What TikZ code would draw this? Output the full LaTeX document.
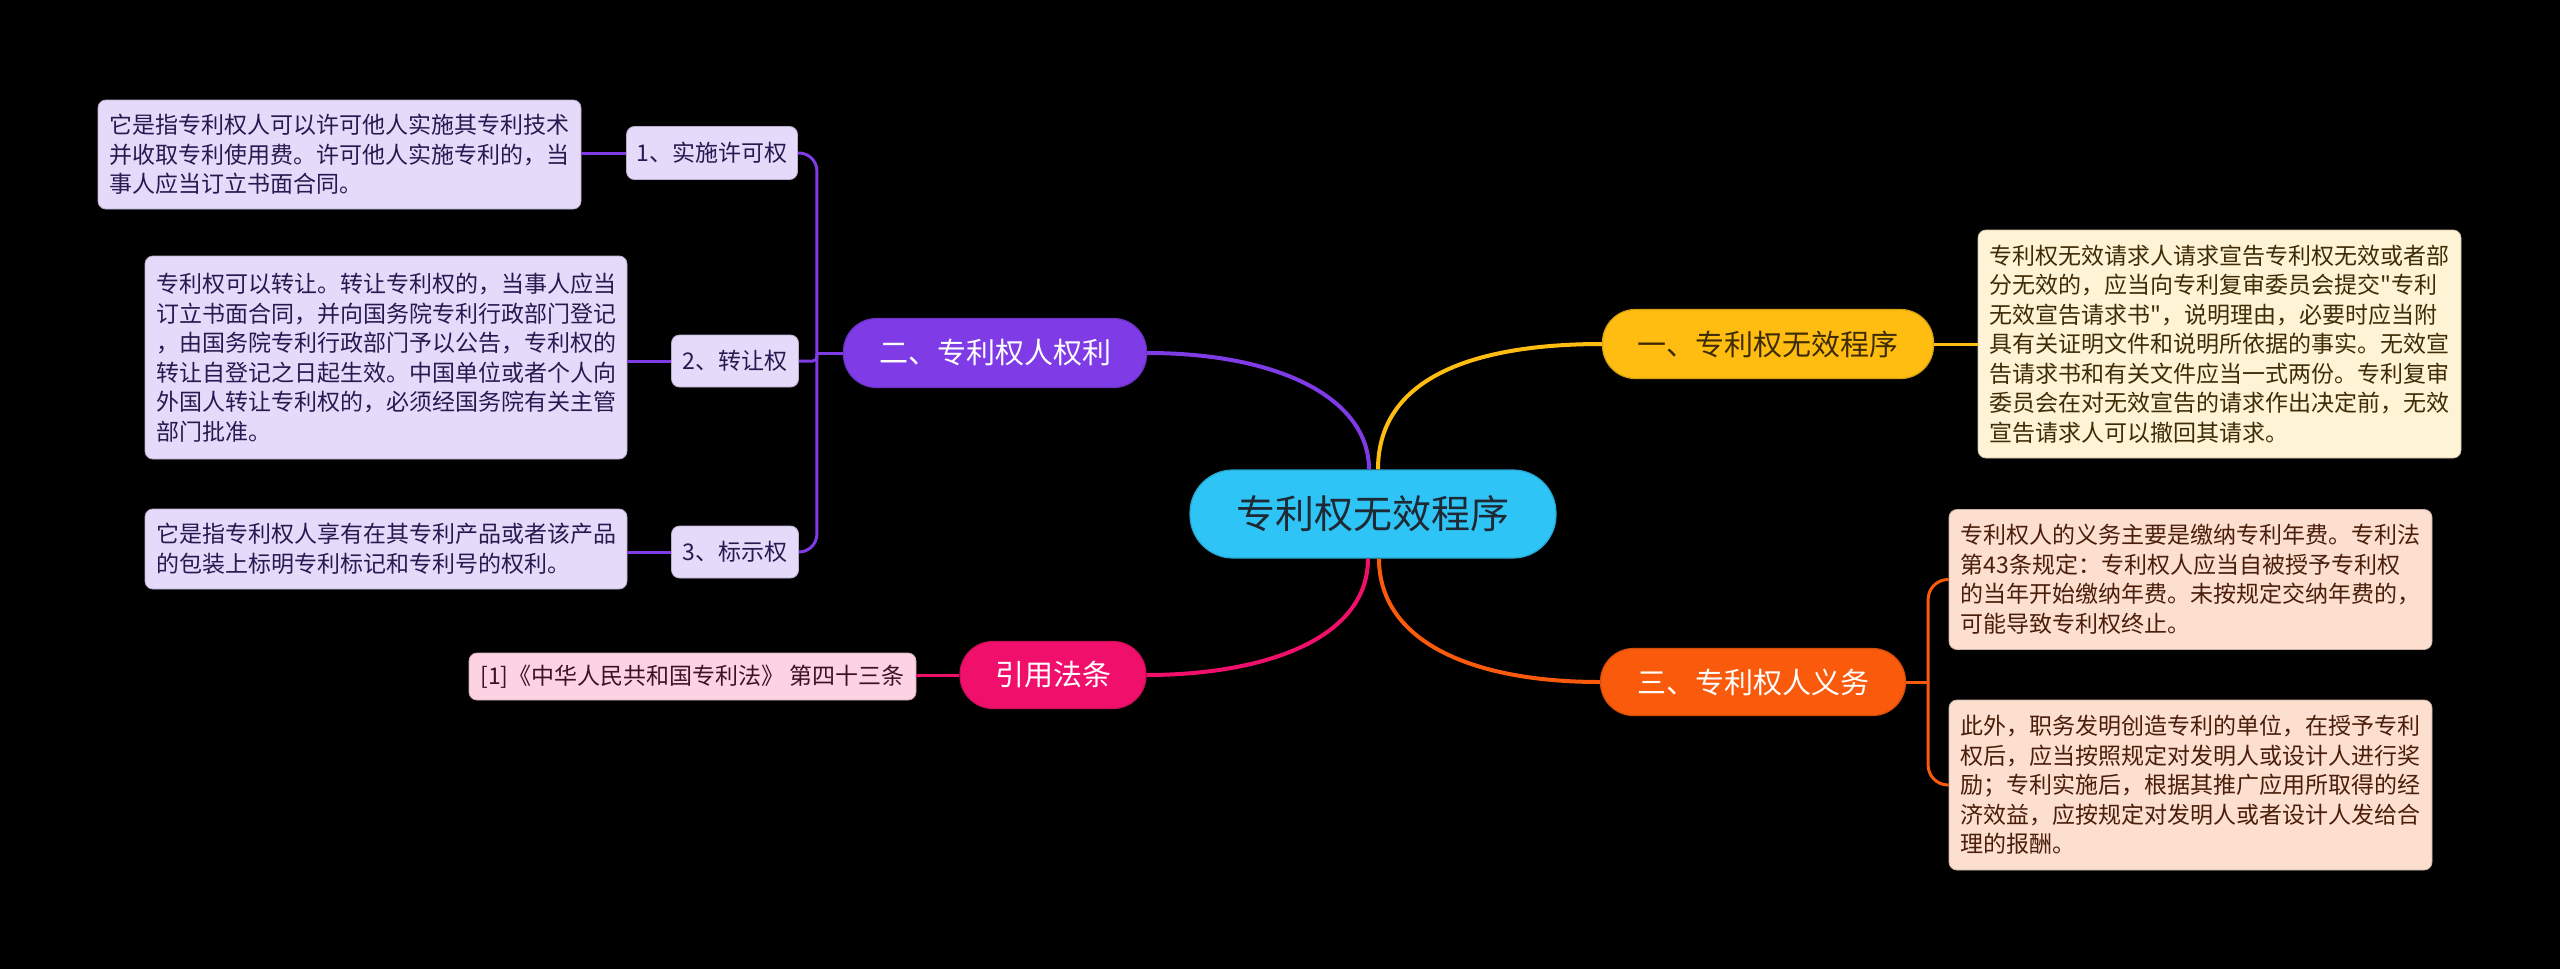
\documentclass[tikz,border=0pt]{standalone}
\usepackage{fontspec}
\newfontfamily\cjk{Noto Sans CJK SC}
\usetikzlibrary{backgrounds}
\definecolor{cblue}{RGB}{46,196,245}
\definecolor{cyellow}{RGB}{255,189,18}
\definecolor{cpurple}{RGB}{127,59,230}
\definecolor{cpink}{RGB}{240,16,107}
\definecolor{corange}{RGB}{249,90,11}
\definecolor{lpurple}{RGB}{230,218,251}
\definecolor{lyellow}{RGB}{255,243,214}
\definecolor{lorange}{RGB}{253,223,208}
\definecolor{lpink}{RGB}{253,210,227}
\definecolor{tdark}{RGB}{31,41,52}
\definecolor{tpurple}{RGB}{40,26,80}
\definecolor{tbrown}{RGB}{62,44,6}
\definecolor{torange}{RGB}{74,30,10}
\definecolor{tpink}{RGB}{61,18,38}
\begin{document}
\begin{tikzpicture}[x=1pt,y=-1pt,
  centernode/.style={rounded corners=43pt, fill=cblue, draw=cblue!85!black, line width=1.2pt,
    text=tdark, inner sep=0pt, font={\cjk\fontsize{39}{46}\selectfont}},
  branch/.style={rounded corners=33pt, inner sep=0pt, line width=1.2pt,
    font={\cjk\fontsize{29}{35}\selectfont}},
  subnode/.style={rounded corners=8pt, inner sep=0pt, fill=lpurple, draw=lpurple!80!black,
    line width=0.8pt, text=tpurple, font={\cjk\fontsize{23}{29.5}\selectfont}},
  leaf/.style={rounded corners=8pt, inner sep=0pt, align=left, line width=0.8pt,
    font={\cjk\fontsize{23}{29.5}\selectfont}},
  conn/.style={line width=4pt, draw=#1},
  subconn/.style={line width=3pt, draw=#1}
]
% center
\node[centernode, minimum width=366pt, minimum height=88pt] (ctr) at (1373,514) {专利权无效程序};
% branches
\node[branch, fill=cyellow, draw=cyellow!85!black, text=tbrown, minimum width=331pt, minimum height=69pt] (b1) at (1768,344) {一、专利权无效程序};
\node[branch, fill=cpurple, draw=cpurple!85!black, text=white, minimum width=303pt, minimum height=69pt] (b2) at (995,353) {二、专利权人权利};
\node[branch, fill=corange, draw=corange!85!black, text=white, minimum width=305pt, minimum height=67pt] (b3) at (1753,682) {三、专利权人义务};
\node[branch, fill=cpink, draw=cpink!85!black, text=white, minimum width=186pt, minimum height=67pt] (b4) at (1053,675) {引用法条};
% sub nodes
\node[subnode, minimum width=171pt, minimum height=53pt] (s1) at (712,153) {1、实施许可权};
\node[subnode, minimum width=127pt, minimum height=52pt] (s2) at (735,361) {2、转让权};
\node[subnode, minimum width=127pt, minimum height=52pt] (s3) at (735,552) {3、标示权};
% leaves
\node[leaf, fill=lpurple, draw=lpurple!80!black, text=tpurple, minimum width=483pt, minimum height=109pt] (l1) at (339.5,154.5)
 {它是指专利权人可以许可他人实施其专利技术\\并收取专利使用费。许可他人实施专利的，当\\事人应当订立书面合同。};
\node[leaf, fill=lpurple, draw=lpurple!80!black, text=tpurple, minimum width=482pt, minimum height=203pt] (l2) at (386,357.5)
 {专利权可以转让。转让专利权的，当事人应当\\订立书面合同，并向国务院专利行政部门登记\\，由国务院专利行政部门予以公告，专利权的\\转让自登记之日起生效。中国单位或者个人向\\外国人转让专利权的，必须经国务院有关主管\\部门批准。};
\node[leaf, fill=lpurple, draw=lpurple!80!black, text=tpurple, minimum width=482pt, minimum height=80pt] (l3) at (386,549)
 {它是指专利权人享有在其专利产品或者该产品\\的包装上标明专利标记和专利号的权利。};
\node[leaf, fill=lpink, draw=lpink!80!black, text=tpink, minimum width=447pt, minimum height=47pt] (ref) at (692.5,676.5)
 {[1]《中华人民共和国专利法》 第四十三条};
\node[leaf, fill=lyellow, draw=lyellow!80!black, text=tbrown, minimum width=483pt, minimum height=228pt] (r1) at (2219.5,344)
 {专利权无效请求人请求宣告专利权无效或者部\\分无效的，应当向专利复审委员会提交"专利\\无效宣告请求书"，说明理由，必要时应当附\\具有关证明文件和说明所依据的事实。无效宣\\告请求书和有关文件应当一式两份。专利复审\\委员会在对无效宣告的请求作出决定前，无效\\宣告请求人可以撤回其请求。};
\node[leaf, fill=lorange, draw=lorange!80!black, text=torange, minimum width=483pt, minimum height=140pt] (r2) at (2190.5,579.5)
 {专利权人的义务主要是缴纳专利年费。专利法\\第43条规定：专利权人应当自被授予专利权\\的当年开始缴纳年费。未按规定交纳年费的，\\可能导致专利权终止。};
\node[leaf, fill=lorange, draw=lorange!80!black, text=torange, minimum width=483pt, minimum height=170pt] (r3) at (2190.5,785)
 {此外，职务发明创造专利的单位，在授予专利\\权后，应当按照规定对发明人或设计人进行奖\\励；专利实施后，根据其推广应用所取得的经\\济效益，应按规定对发明人或者设计人发给合\\理的报酬。};
% junction points
\coordinate (pj) at ([xshift=-26pt]b2.west);
\coordinate (oj) at ([xshift=22pt]b3.east);
% background
\begin{scope}[on background layer]
\fill[black] (0,0) rectangle (2560,969);
\end{scope}
\useasboundingbox (0,0) rectangle (2560,969);
% main connectors
\draw[conn=cpurple] ([xshift=-4pt]ctr.north) .. controls +(0,-70) and +(134,0) .. (b2.east);
\draw[conn=cyellow] ([xshift=5pt]ctr.north) .. controls +(0,-90) and +(-132,0) .. (b1.west);
\draw[conn=cpink] ([xshift=-5pt]ctr.south) .. controls +(0,82) and +(114,0) .. (b4.east);
\draw[conn=corange] ([xshift=6pt]ctr.south) .. controls +(0,82) and +(-130,0) .. (b3.west);
% purple sub tree
\draw[subconn=cpurple] (b2.west) -- (pj);
\draw[subconn=cpurple, rounded corners=18pt] (pj) |- (s1.east);
\draw[subconn=cpurple, rounded corners=4pt] (pj) |- (s2.east);
\draw[subconn=cpurple, rounded corners=18pt] (pj) |- (s3.east);
\draw[subconn=cpurple] (s1.west) -- (s1.west -| l1.east);
\draw[subconn=cpurple] (s2.west) -- (s2.west -| l2.east);
\draw[subconn=cpurple] (s3.west) -- (s3.west -| l3.east);
% pink
\draw[subconn=cpink] (b4.west) -- (b4.west -| ref.east);
% yellow
\draw[subconn=cyellow] (b1.east) -- (b1.east -| r1.west);
% orange sub tree
\draw[subconn=corange] (b3.east) -- (oj);
\draw[subconn=corange, rounded corners=20pt] (oj) |- (r2.west);
\draw[subconn=corange, rounded corners=20pt] (oj) |- (r3.west);
\end{tikzpicture}
\end{document}
